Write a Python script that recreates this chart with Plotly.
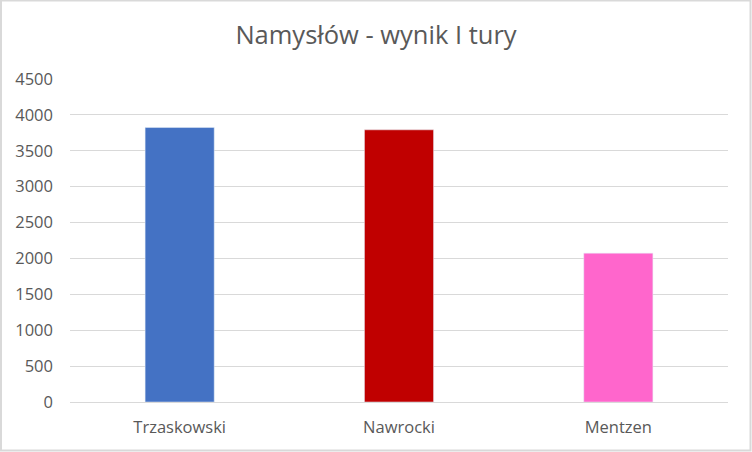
import plotly.graph_objects as go

categories = ["Trzaskowski", "Nawrocki", "Mentzen"]
values = [3824, 3792, 2074]
colors = ["#4472C4", "#C00000", "#FF66CC"]
y_ticks = [0, 500, 1000, 1500, 2000, 2500, 3000, 3500, 4000, 4500]

W, H = 752, 452
L, R, T, B = 70, 24, 79, 50
pw, ph = W - L - R, H - T - B

fig = go.Figure(go.Bar(x=categories, y=values, marker_color=colors, width=0.315))

fig.update_layout(
    width=W, height=H,
    margin=dict(l=L, r=R, t=T, b=B),
    paper_bgcolor="white", plot_bgcolor="white",
    font=dict(family="Open Sans, sans-serif", color="#595959", size=16),
    title=dict(text="Namysłów - wynik I tury", x=0.5, xanchor="center",
               y=1 - 35 / H, yanchor="middle", font=dict(size=25.5, color="#595959")),
    showlegend=False,
)
fig.update_yaxes(range=[0, 4500], tickvals=y_ticks, showgrid=True, gridcolor="#D9D9D9",
                 gridwidth=1, zeroline=False, showline=False, ticklabelstandoff=16,
                 tickfont=dict(size=16.5, color="#595959"))
fig.update_xaxes(showline=True, linecolor="#D9D9D9", linewidth=1, ticks="",
                 ticklabelstandoff=10, tickfont=dict(size=16.5, color="#595959"))

fig.add_shape(type="rect", xref="paper", yref="paper",
              x0=(1 - L) / pw, x1=(W - 1.5 - L) / pw,
              y0=(-(B - 1.5)) / ph, y1=(H - 0.5 - B) / ph,
              line=dict(color="#D9D9D9", width=2), layer="below")

fig.write_html("out.html", config={"displayModeBar": False},
               post_script="document.body.style.margin='0px';")
